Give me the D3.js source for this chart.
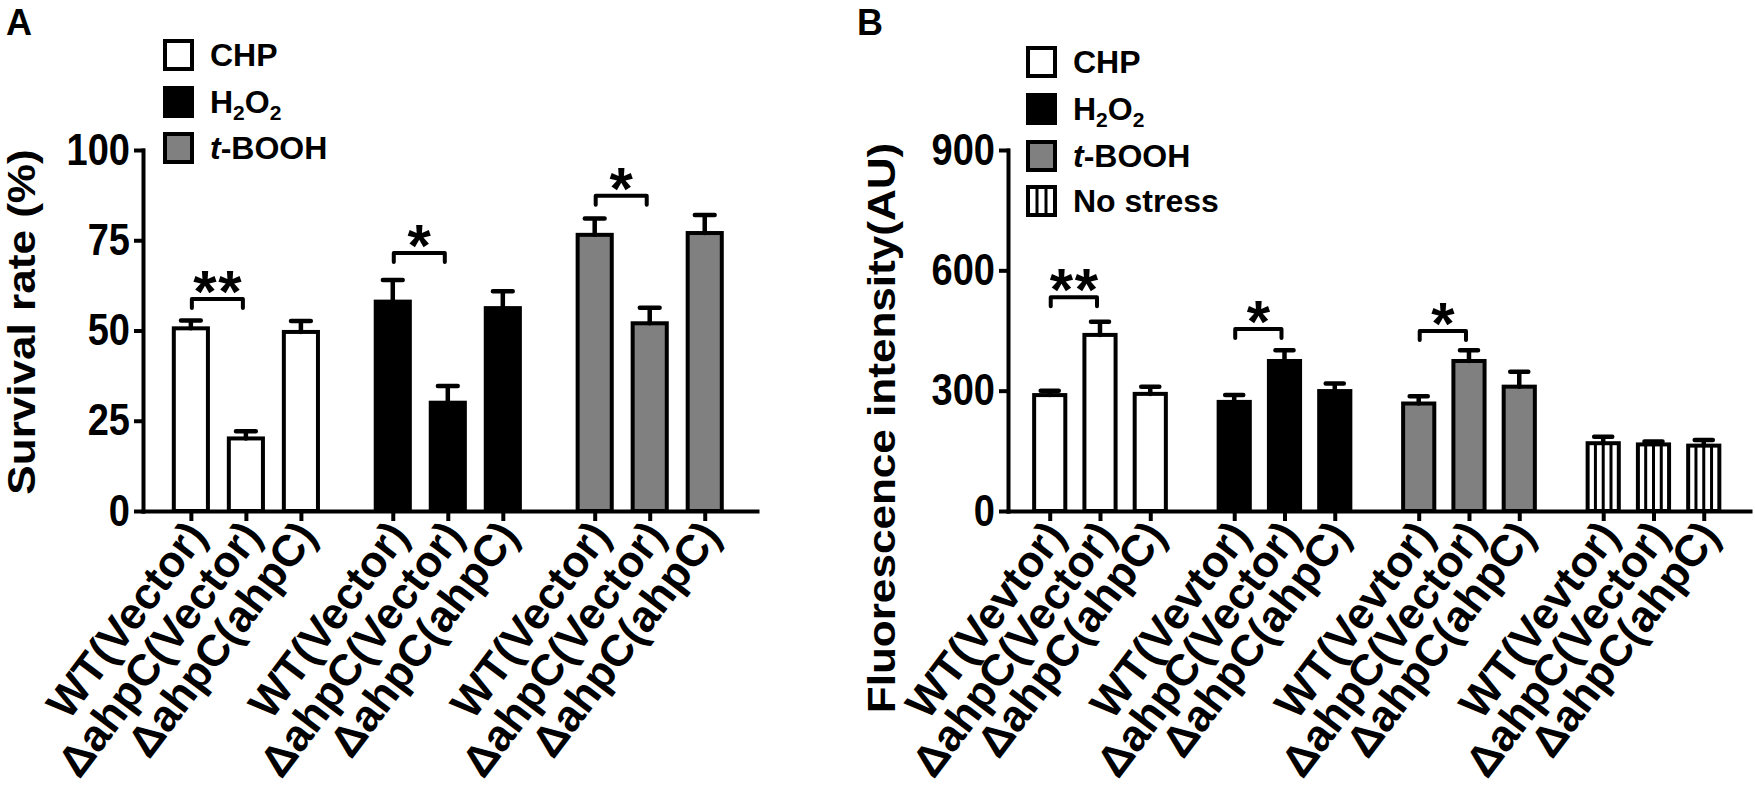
<!DOCTYPE html>
<html>
<head>
<meta charset="utf-8">
<script src="https://cdn.jsdelivr.net/npm/d3@7/dist/d3.min.js"></script>
<style>
  body { margin: 0; background: #fff; }
  svg text { font-family: "Liberation Sans", Arial, sans-serif; font-weight: bold; fill: #000; }
</style>
</head>
<body>
<div class="container"></div>
<script>
const width = 1755,
    height = 801,
    stretchY = 1.16,   // tick labels and titles are drawn a bit tall
    groupStep = 3.67;  // slots between the first bars of two groups

// ---- data ----
const treatmentsA = ["CHP", "H2O2", "t-BOOH"];
const treatmentsB = ["CHP", "H2O2", "t-BOOH", "No stress"];
const strainsA = ["WT(Vector)", "\u0394ahpC(Vector)", "\u0394ahpC(ahpC)"];
const strainsB = ["WT(Vevtor)", "\u0394ahpC(Vector)", "\u0394ahpC(ahpC)"];

// survival rate (%), rows = treatment, cols = strain
const survivalMean = [[50.6, 20.1, 49.6], [58, 30, 56.2], [76.5, 52, 77]];
const survivalErr  = [[2.2, 2, 3], [6, 4.6, 4.7], [4.5, 4.3, 5]];
// fluorescence (AU)
const fluorMean = [[289, 439, 292], [272, 374, 299], [268, 374, 310], [169, 166, 163]];
const fluorErr  = [[11, 33, 18], [17, 27, 19], [18, 27, 37], [16, 7, 14]];

const ticksA = [0, 25, 50, 75, 100];
const ticksB = [0, 300, 600, 900];

// significance: [group, level, mark]
const sigA = [[0, 58.7, "**"], [1, 71.5, "*"], [2, 87.3, "*"]];
const sigB = [[0, 533, "**"], [1, 454, "*"], [2, 449, "*"]];

const fills = ["#ffffff", "#000000", "#808080", "#ffffff"];

const createCanvas = () => {
  return d3.selectAll('.container')
           .append('svg')
           .attr('width', width)
           .attr('height', height);
};

const svg = createCanvas();

const isPlain = (name) => name === "No stress";

const addLegendLabel = (sel, name) => {
  if (name === "H2O2") {
    sel.append('tspan').text('H');
    sel.append('tspan').attr('font-size', 21).attr('dy', 7).text('2');
    sel.append('tspan').attr('dy', -7).text('O');
    sel.append('tspan').attr('font-size', 21).attr('dy', 7).text('2');
  } else if (name === "t-BOOH") {
    sel.append('tspan').attr('font-style', 'italic').text('t');
    sel.append('tspan').text('-BOOH');
  } else {
    sel.text(name);
  }
};

const drawHatch = (g, x, w, yTop, yBot, n) => {
  for (let k = 1; k <= n; k++) {
    g.append('line')
     .attr('x1', x + w * k / (n + 1)).attr('x2', x + w * k / (n + 1))
     .attr('y1', yTop).attr('y2', yBot)
     .attr('stroke', '#000').attr('stroke-width', 3);
  }
};

const createPanel = (p) => {
  const g = svg.append('g');

  const yScale = d3.scaleLinear()
                   .domain([0, p.yMax])
                   .range([511, 150]);

  const xScale = d3.scaleLinear()
                   .domain(p.slotDomain)
                   .range([p.x0, p.x1]);

  const step = xScale(1) - xScale(0);
  const barW = step * 0.62;

  const bars = [];
  p.means.forEach((row, gi) => row.forEach((v, bi) => {
    bars.push({ gi, bi, v, e: p.errs[gi][bi], slot: gi * groupStep + bi });
  }));

  // bars
  bars.forEach(d => {
    const x = xScale(d.slot) - barW / 2;
    const hatched = isPlain(p.treatments[d.gi]);
    if (hatched) {
      g.append('rect')
       .attr('x', x).attr('y', yScale(d.v))
       .attr('width', barW).attr('height', yScale(0) - yScale(d.v))
       .attr('fill', '#fff');
      drawHatch(g, x, barW, yScale(d.v), yScale(0), 3);
    }
    g.append('rect')
     .attr('x', x).attr('y', yScale(d.v))
     .attr('width', barW).attr('height', yScale(0) - yScale(d.v))
     .attr('fill', hatched ? 'none' : fills[d.gi])
     .attr('stroke', '#000')
     .attr('stroke-width', 4);
  });

  // error bars (upper only)
  g.selectAll('.err')
   .data(bars)
   .enter()
   .append('path')
   .attr('class', 'err')
   .attr('d', d => {
     const cx = xScale(d.slot), top = yScale(d.v + d.e);
     return `M${cx},${yScale(d.v)}V${top}M${cx - step * 0.18},${top}H${cx + step * 0.18}`;
   })
   .attr('fill', 'none')
   .attr('stroke', '#000')
   .attr('stroke-width', 4.5)
   .attr('stroke-linecap', 'round');

  // axes
  const xAxis = g.append('g')
                 .attr('transform', `translate(0,${yScale(0)})`)
                 .call(d3.axisBottom(xScale)
                         .tickValues(bars.map(d => d.slot))
                         .tickFormat((d, i) => p.strains[i % 3])
                         .tickSize(8)
                         .tickSizeOuter(0));
  xAxis.selectAll('text')
       .attr('x', 0).attr('y', 0).attr('dy', null)
       .attr('text-anchor', 'end')
       .attr('font-size', 44)
       .attr('transform', 'translate(17,25) rotate(-53)');

  const yAxis = g.append('g')
                 .attr('transform', `translate(${p.x0},0)`)
                 .call(d3.axisLeft(yScale)
                         .tickValues(p.ticks)
                         .tickSize(7)
                         .tickPadding(6)
                         .tickSizeOuter(0));
  yAxis.selectAll('text')
       .attr('font-size', 38)
       .attr('transform', `scale(1,${stretchY})`);

  g.selectAll('.domain, .tick line')
   .attr('stroke', '#000')
   .attr('stroke-width', 4)
   .attr('stroke-linecap', 'square');
  g.selectAll('text').attr('font-family', null);

  // significance brackets
  p.sig.forEach(([gi, level, mark]) => {
    const xa = xScale(gi * groupStep) + 1,
          xb = xScale(gi * groupStep + 1) - 3,
          yb = yScale(level);
    g.append('path')
     .attr('d', `M${xa},${yb + 9}V${yb}H${xb}V${yb + 9}`)
     .attr('fill', 'none')
     .attr('stroke', '#000')
     .attr('stroke-width', 4)
     .attr('stroke-linejoin', 'round')
     .attr('stroke-linecap', 'round');
    const n = mark.length;
    mark.split('').forEach((m, k) => {
      g.append('text')
       .attr('x', (xa + xb) / 2 + (k - (n - 1) / 2) * 25)
       .attr('y', yb + 13)
       .attr('text-anchor', 'middle')
       .attr('font-size', 60)
       .text(m);
    });
  });

  // y title
  g.append('text')
   .attr('transform', `translate(${p.titleX},${p.titleY}) scale(1,${stretchY}) rotate(-90)`)
   .attr('text-anchor', 'middle')
   .attr('font-size', 38)
   .text(p.title);

  // panel letter
  g.append('text')
   .attr('x', p.letterX).attr('y', 35)
   .attr('font-size', 36)
   .text(p.letter);

  // legend
  p.treatments.forEach((t, i) => {
    const cy = p.legendY[i];
    const box = g.append('g');
    box.append('rect')
       .attr('x', p.legendX + 2).attr('y', cy - 14)
       .attr('width', 27).attr('height', 28)
       .attr('fill', fills[i]);
    if (isPlain(t)) drawHatch(box, p.legendX + 2, 27, cy - 14, cy + 14, 2);
    box.append('rect')
       .attr('x', p.legendX + 2).attr('y', cy - 14)
       .attr('width', 27).attr('height', 28)
       .attr('fill', 'none')
       .attr('stroke', '#000')
       .attr('stroke-width', 4);
    const label = g.append('text')
                   .attr('x', p.legendX + 47)
                   .attr('y', cy + 11)
                   .attr('font-size', 32);
    addLegendLabel(label, t);
  });
};

createPanel({
  letter: "A", letterX: 6,
  title: "Survival rate (%)", titleX: 35, titleY: 322,
  x0: 143, x1: 757, slotDomain: [-0.87, 10.29],
  yMax: 100, ticks: ticksA,
  means: survivalMean, errs: survivalErr,
  strains: strainsA, treatments: treatmentsA, sig: sigA,
  legendX: 163, legendY: [55, 102, 148]
});

createPanel({
  letter: "B", letterX: 857,
  title: "Fluorescence intensity(AU)", titleX: 895, titleY: 428,
  x0: 1008, x1: 1750, slotDomain: [-0.83, 13.93],
  yMax: 900, ticks: ticksB,
  means: fluorMean, errs: fluorErr,
  strains: strainsB, treatments: treatmentsB, sig: sigB,
  legendX: 1026, legendY: [62, 109, 156, 201]
});
</script>
</body>
</html>
